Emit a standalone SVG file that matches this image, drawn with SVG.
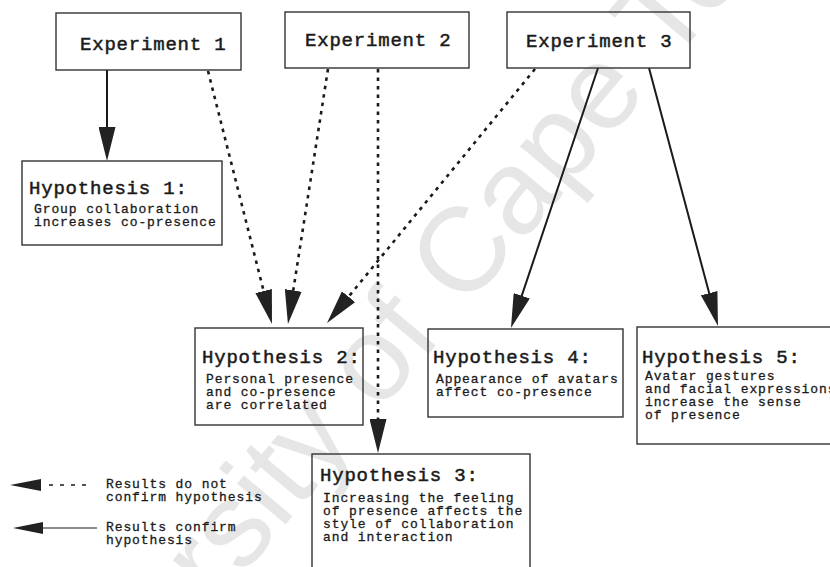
<svg xmlns="http://www.w3.org/2000/svg" width="830" height="567" viewBox="0 0 830 567">
<style>
.box{fill:none;stroke:#333;stroke-width:1.4}
.ttl{font-family:"Liberation Mono","Courier New",monospace;font-size:19px;letter-spacing:0.8px;fill:#1a1a1a;stroke:#1a1a1a;stroke-width:0.5}
.txt{font-family:"Liberation Mono","Courier New",monospace;font-size:13px;letter-spacing:0.9px;fill:#1a1a1a;stroke:#1a1a1a;stroke-width:0.3}
.solid{fill:none;stroke:#1a1a1a;stroke-width:2}
.dash{fill:none;stroke:#1a1a1a;stroke-width:2.6;stroke-dasharray:3.5 5}
.wm{font-family:"Liberation Sans",Arial,sans-serif;font-size:120px;fill:#e6e6e6}
.head{fill:#222}
</style>
<defs>
<marker id="ah" viewBox="0 0 34 17" refX="26" refY="8.5" markerWidth="34" markerHeight="17" markerUnits="userSpaceOnUse" orient="auto">
<path d="M0,0 L34,8.5 L0,17 z" class="head"/>
</marker>
</defs>
<rect width="830" height="567" fill="#fff"/>
<g id="watermark" transform="translate(19,842) rotate(-50)">
<text class="wm" x="0" y="0">University of Cape Town</text>
</g>
<g id="connectors">
<line class="solid" x1="107" y1="70" x2="107" y2="153" marker-end="url(#ah)"/>
<line class="dash" x1="208" y1="71" x2="270" y2="316.2" marker-end="url(#ah)"/>
<line class="dash" x1="328" y1="69" x2="289.2" y2="316.1" marker-end="url(#ah)"/>
<line class="dash" x1="535" y1="69" x2="332.1" y2="316.8" marker-end="url(#ah)"/>
<line class="dash" x1="378" y1="69" x2="378" y2="445" marker-end="url(#ah)"/>
<line class="solid" x1="598" y1="68" x2="513.5" y2="320.4" marker-end="url(#ah)"/>
<line class="solid" x1="649" y1="68" x2="715.9" y2="318.3" marker-end="url(#ah)"/>
</g>
<g id="exp1">
<rect class="box" x="56" y="13" width="185" height="57"/>
<text class="ttl" x="80" y="50">Experiment 1</text>
</g>
<g id="exp2">
<rect class="box" x="285" y="12" width="184" height="56"/>
<text class="ttl" x="305" y="46">Experiment 2</text>
</g>
<g id="exp3">
<rect class="box" x="507" y="12" width="183" height="56"/>
<text class="ttl" x="526" y="47">Experiment 3</text>
</g>
<g id="hyp1">
<rect class="box" x="22" y="161" width="200" height="84"/>
<text class="ttl" x="29" y="194">Hypothesis 1:</text>
<text class="txt" x="34" y="213">Group collaboration</text>
<text class="txt" x="34" y="226">increases co-presence</text>
</g>
<g id="hyp2">
<rect class="box" x="195" y="328" width="168" height="97"/>
<text class="ttl" x="202" y="363">Hypothesis 2:</text>
<text class="txt" x="206" y="383">Personal presence</text>
<text class="txt" x="206" y="396">and co-presence</text>
<text class="txt" x="206" y="409">are correlated</text>
</g>
<g id="hyp3">
<rect class="box" x="312" y="454" width="218" height="120"/>
<text class="ttl" x="320" y="481">Hypothesis 3:</text>
<text class="txt" x="323" y="502">Increasing the feeling</text>
<text class="txt" x="323" y="515">of presence affects the</text>
<text class="txt" x="323" y="528">style of collaboration</text>
<text class="txt" x="323" y="541">and interaction</text>
</g>
<g id="hyp4">
<rect class="box" x="428" y="329" width="195" height="88"/>
<text class="ttl" x="433" y="363">Hypothesis 4:</text>
<text class="txt" x="436" y="383">Appearance of avatars</text>
<text class="txt" x="436" y="396">affect co-presence</text>
</g>
<g id="hyp5">
<rect class="box" x="637" y="327" width="210" height="117"/>
<text class="ttl" x="642" y="363">Hypothesis 5:</text>
<text class="txt" x="645" y="380">Avatar gestures</text>
<text class="txt" x="645" y="393">and facial expressions</text>
<text class="txt" x="645" y="406">increase the sense</text>
<text class="txt" x="645" y="419">of presence</text>
</g>
<g id="legend">
<path class="head" d="M10,485 L41,479 L41,491 z"/>
<line x1="49" y1="485" x2="90" y2="485" stroke="#1a1a1a" stroke-width="1.5" stroke-dasharray="4 7"/>
<text class="txt" x="106" y="488">Results do not</text>
<text class="txt" x="106" y="501">confirm hypothesis</text>
<path class="head" d="M13,528 L43,522 L43,534 z"/>
<line x1="43" y1="528" x2="97" y2="528" stroke="#1a1a1a" stroke-width="1"/>
<text class="txt" x="106" y="531">Results confirm</text>
<text class="txt" x="106" y="544">hypothesis</text>
</g>
</svg>
